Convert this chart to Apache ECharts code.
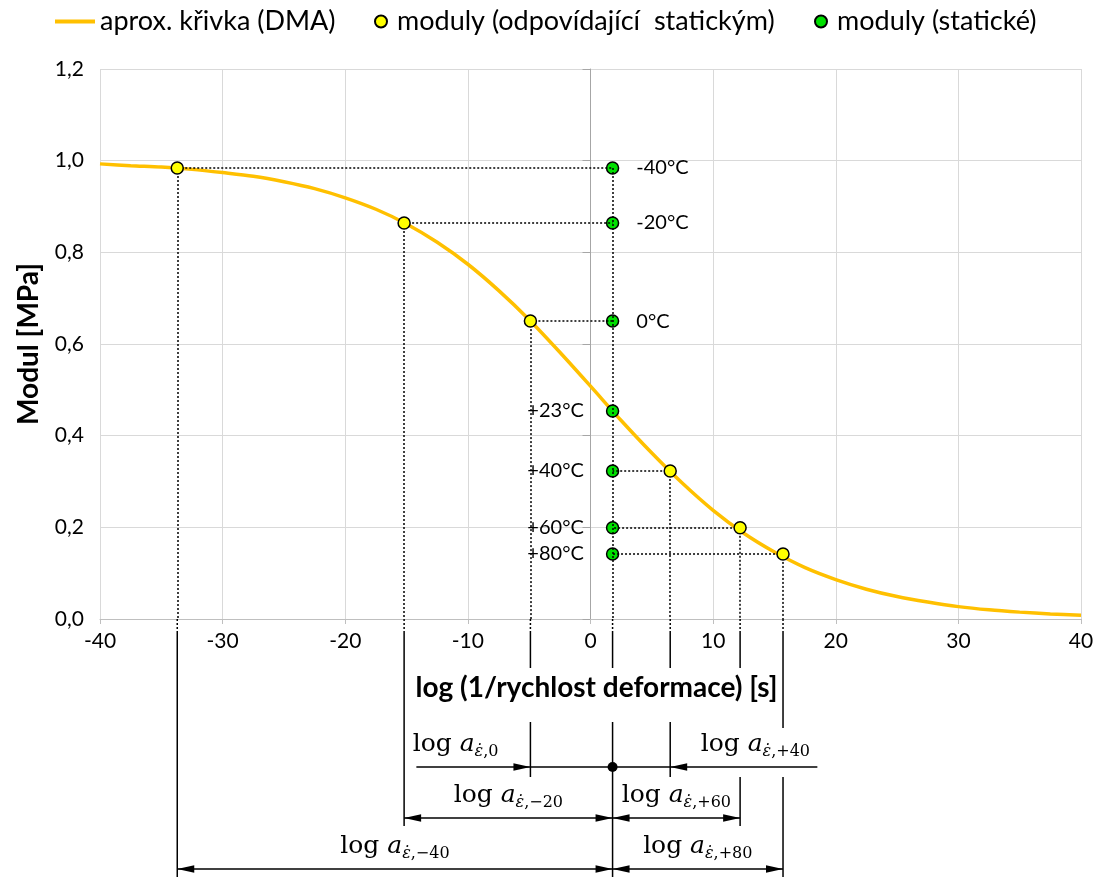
<!DOCTYPE html>
<html><head><meta charset="utf-8">
<script src="https://cdn.jsdelivr.net/npm/echarts@6/dist/echarts.min.js"></script>
<style>html,body{margin:0;padding:0;background:#fff}#c{width:1100px;height:877px}</style>
</head><body><div id="c"></div><script>
// ---------------- data ----------------
const curveX = [-40,-37.5,-35,-32.5,-30,-27.5,-25,-22.5,-20,-17.5,-15,-12.5,-10,-7.5,-5,-2.5,0,2.5,5,7.5,10,12.5,15,17.5,20,22.5,25,27.5,30,32.5,35,37.5,40];
const curveY = [0.993,0.989,0.986,0.981,0.974,0.966,0.954,0.939,0.919,0.894,0.862,0.822,0.774,0.717,0.653,0.582,0.508,0.433,0.362,0.296,0.237,0.187,0.146,0.112,0.086,0.065,0.049,0.037,0.027,0.020,0.015,0.011,0.008];
const tempLabels = ['-40°C','-20°C','0°C','+23°C','+40°C','+60°C','+80°C'];
const staticLogRate = 1.8;
const staticModuli = [0.984,0.864,0.650,0.454,0.323,0.199,0.142];
const shiftedLogRate = [-33.7,-15.2,-4.9,null,6.5,12.2,15.7];
const shiftSubscripts = ['−40','−20','0',null,'+40','+60','+80'];
const seriesNames = ['aprox. křivka (DMA)','moduly (odpovídající  statickým)','moduly (statické)'];
const xAxisTitle = 'log (1/rychlost deformace) [s]';
const yAxisTitle = 'Modul [MPa]';

// ---------------- layout of the shift-factor diagram (px below the x axis) ----------------
const ANN_H = 258;
const annLayout = {
  0: {row: 250, segs: [[12,258]]},
  1: {row: 199, segs: [[12,207]]},
  2: {row: 148, segs: [[12,49],[103,158]], tail: -14.2, labelAt: -14.5, align: 'left'},
  4: {row: 148, segs: [[12,49],[103,158]], tail: 18.5, labelAt: 17.9, align: 'right'},
  5: {row: 199, segs: [[12,49],[158,207]]},
  6: {row: 250, segs: [[12,109],[158,258]]}
};
const staticSegs = [[12,49],[103,258]];
const labelRise = 23;

const FONT = 'Lato';
const MATH = 'DejaVu Serif';
const mathRich = {
  t: {fontFamily: MATH, fontSize: 25, lineHeight: 32, color: '#000'},
  a: {fontFamily: MATH, fontSize: 25, fontStyle: 'italic', lineHeight: 32, color: '#000'},
  e: {fontFamily: MATH, fontSize: 16, fontStyle: 'italic', lineHeight: 14, verticalAlign: 'bottom', color: '#000'},
  s: {fontFamily: MATH, fontSize: 16, lineHeight: 14, verticalAlign: 'bottom', color: '#000'}
};
function mathText(sub) { return '{t|log }{a|a}{e|\u03B5\u0307}{s|,' + sub + '}'; }

// ---------------- derived series data ----------------
const curveData = curveX.map((x, i) => [x, curveY[i]]);
const yellowData = [];
shiftedLogRate.forEach((x, i) => { if (x !== null) yellowData.push([x, staticModuli[i]]); });
const greenData = staticModuli.map((m, i) => ({
  value: [staticLogRate, m],
  label: i < 3 ? {position: 'right', distance: 17} : {position: 'left', distance: 22}
}));
const guideLines = [];
shiftedLogRate.forEach((x, i) => {
  if (x === null) return;
  guideLines.push([{coord: [x, staticModuli[i]]}, {coord: [staticLogRate, staticModuli[i]]}]);
  guideLines.push([{coord: [x, staticModuli[i]]}, {coord: [x, 0]}]);
});
guideLines.push([{coord: [staticLogRate, staticModuli[0]]}, {coord: [staticLogRate, 0]}]);

function renderAnn(params, api) {
  const kids = [];
  const P = (x, y) => api.coord([x, y]);
  const line = (p1, p2, dash) => kids.push({type: 'line', shape: {x1: p1[0], y1: p1[1], x2: p2[0], y2: p2[1]},
    style: {stroke: '#000', lineWidth: 1.5, lineDash: dash || null}});
  const head = (tip, dir) => {
    const L = 17, W = 3.8;
    kids.push({type: 'polygon', shape: {points: [[tip[0], tip[1]], [tip[0] - dir * L, tip[1] - W], [tip[0] - dir * L, tip[1] + W]]},
      style: {fill: '#000'}});
  };
  const label = (x, y, sub, align) => kids.push({type: 'text', x: 0, y: 0,
    style: {x: x, y: y, text: mathText(sub), rich: mathRich, align: align, textAlign: align,
      verticalAlign: 'middle', textVerticalAlign: 'middle'}});
  shiftedLogRate.forEach((x, i) => {
    if (x === null) return;
    line(P(x, 0), P(x, 12), [2, 2]);
    annLayout[i].segs.forEach(s => line(P(x, s[0]), P(x, s[1])));
  });
  line(P(staticLogRate, 0), P(staticLogRate, 12), [2, 2]);
  staticSegs.forEach(s => line(P(staticLogRate, s[0]), P(staticLogRate, s[1])));
  shiftedLogRate.forEach((x, i) => {
    if (x === null) return;
    const L = annLayout[i];
    const dir = x < staticLogRate ? -1 : 1;
    if (L.tail !== undefined) {
      line(P(L.tail, L.row), P(staticLogRate, L.row));
      head(P(x, L.row), -dir);
      label(P(L.labelAt, 0)[0], P(0, L.row - labelRise)[1], shiftSubscripts[i], L.align);
    } else {
      line(P(x, L.row), P(staticLogRate, L.row));
      head(P(x, L.row), dir);
      head(P(staticLogRate, L.row), -dir);
      const mid = P((x + staticLogRate) / 2, L.row - labelRise);
      label(mid[0], mid[1], shiftSubscripts[i], 'center');
    }
  });
  const c = P(staticLogRate, annLayout[2].row);
  kids.push({type: 'circle', shape: {cx: c[0], cy: c[1], r: 5}, style: {fill: '#000'}});
  return {type: 'group', children: kids};
}

const chart = echarts.init(document.getElementById('c'));
const legendText = {fontFamily: FONT, fontSize: 27, color: '#000'};
const legendTextPad = {fontFamily: FONT, fontSize: 27, color: '#000', padding: [0, 0, 0, 5]};
chart.setOption({
  animation: false,
  textStyle: {fontFamily: FONT},
  legend: [
    {data: [{name: seriesNames[0], icon: 'rect'}], left: 50, top: 3, itemWidth: 40, itemHeight: 4, textStyle: legendText, selectedMode: false},
    {data: [{name: seriesNames[1], icon: 'circle'}], left: 369, top: 3, itemWidth: 12, itemHeight: 12, textStyle: legendTextPad, selectedMode: false},
    {data: [{name: seriesNames[2], icon: 'circle'}], left: 809, top: 3, itemWidth: 12, itemHeight: 12, textStyle: legendTextPad, selectedMode: false}
  ],
  grid: [
    {left: 100, right: 19, top: 69, height: 550},
    {left: 100, right: 19, top: 619, height: ANN_H}
  ],
  xAxis: [
    {gridIndex: 0, type: 'value', min: -40, max: 40, interval: 10,
      axisLine: {onZero: false, lineStyle: {color: '#bfbfbf', width: 1}},
      axisTick: {show: true, length: 5, lineStyle: {color: '#bfbfbf'}},
      axisLabel: {fontSize: 21, color: '#000', margin: 12, fontFamily: FONT},
      splitLine: {show: true, lineStyle: {color: '#d9d9d9', width: 1}},
      name: xAxisTitle, nameLocation: 'middle', nameGap: 55,
      nameTextStyle: {fontFamily: FONT, fontWeight: 'bold', fontSize: 28, color: '#000', padding: [0, 0, 0, 12]}},
    {gridIndex: 1, type: 'value', min: -40, max: 40, show: false}
  ],
  yAxis: [
    {gridIndex: 0, type: 'value', min: 0, max: 1.2, interval: 0.2,
      axisLine: {show: false, onZero: false}, axisTick: {show: false},
      axisLabel: {fontSize: 21, color: '#000', margin: 16, fontFamily: FONT,
        formatter: v => v.toFixed(1).replace('.', ',')},
      splitLine: {show: true, lineStyle: {color: '#d9d9d9', width: 1}},
      name: yAxisTitle, nameLocation: 'middle', nameGap: 57,
      nameTextStyle: {fontFamily: FONT, fontWeight: 'bold', fontSize: 28, color: '#000'}},
    {gridIndex: 0, type: 'value', min: 0, max: 1.2, interval: 0.2, position: 'left',
      axisLine: {show: true, onZero: true, lineStyle: {color: '#a6a6a6', width: 1}},
      axisTick: {show: true, length: 8, lineStyle: {color: '#a6a6a6'}},
      axisLabel: {show: false}, splitLine: {show: false}},
    {gridIndex: 1, type: 'value', min: 0, max: ANN_H, inverse: true, show: false}
  ],
  series: [
    {name: seriesNames[0], type: 'line', xAxisIndex: 0, yAxisIndex: 0, data: curveData, smooth: 0.3,
      symbol: 'none', lineStyle: {color: '#FFC000', width: 3.5}, itemStyle: {color: '#FFC000'}, z: 2, silent: true},
    {name: 'guides', type: 'line', xAxisIndex: 0, yAxisIndex: 0, data: [], z: 4, silent: true,
      markLine: {silent: true, symbol: ['none', 'none'], label: {show: false},
        lineStyle: {type: [2, 2], color: '#000', width: 1.5}, emphasis: {disabled: true}, data: guideLines}},
    {name: seriesNames[2], type: 'scatter', xAxisIndex: 0, yAxisIndex: 0, data: greenData, symbolSize: 12, z: 3,
      itemStyle: {color: '#00E000', borderColor: '#000', borderWidth: 1.5, opacity: 1},
      label: {show: true, formatter: p => tempLabels[p.dataIndex], fontFamily: FONT, fontSize: 20, color: '#000'}},
    {name: seriesNames[1], type: 'scatter', xAxisIndex: 0, yAxisIndex: 0, data: yellowData, symbolSize: 12, z: 5,
      itemStyle: {color: '#FFFF00', borderColor: '#000', borderWidth: 1.5, opacity: 1}},
    {name: 'diagram', type: 'custom', xAxisIndex: 1, yAxisIndex: 2, data: [[0, 0]], renderItem: renderAnn,
      clip: false, silent: true, z: 6}
  ]
});
</script></body></html>
